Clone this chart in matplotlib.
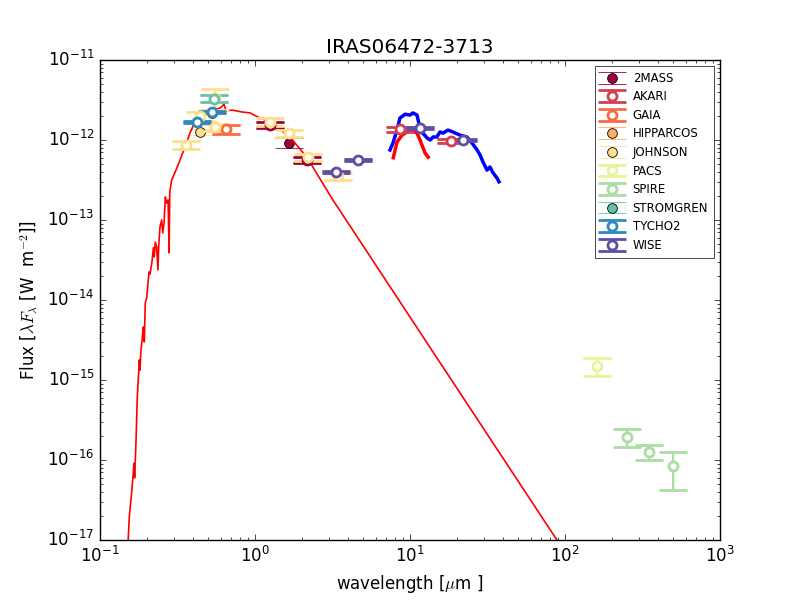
import matplotlib
matplotlib.use('Agg')
import matplotlib.pyplot as plt

plt.style.use('classic')
plt.rcParams['axes.unicode_minus'] = False

# stellar model (micron, W m-2)
model_wl = [0.152, 0.1545, 0.160, 0.164, 0.1656, 0.1673, 0.1706, 0.174, 0.1794, 0.1813,
            0.1832, 0.1876, 0.1902, 0.1931, 0.1959, 0.200, 0.203, 0.207, 0.210, 0.216,
            0.221, 0.224, 0.2275, 0.232, 0.2366, 0.239, 0.2438, 0.250, 0.254, 0.259,
            0.264, 0.269, 0.275, 0.279, 0.282, 0.290, 0.309, 0.328, 0.353, 0.381,
            0.404, 0.442, 0.513, 0.595, 0.631, 0.650, 0.711, 0.824, 0.929, 1.077,
            1.25, 1.68, 2.16, 3.18, 88.7, 200.0]
model_flux = [1e-17, 1.95e-17, 3.9e-17, 6.9e-17, 9.1e-17, 6.0e-17, 1.63e-16, 6.1e-16, 1.78e-15, 1.33e-15,
              2.18e-15, 3.45e-15, 4.6e-15, 3.0e-15, 9.2e-15, 1.06e-14, 1.45e-14, 2.24e-14, 2.1e-14, 2.9e-14,
              4.5e-14, 3.45e-14, 5.3e-14, 4.6e-14, 2.37e-14, 4.6e-14, 8.2e-14, 1.0e-13, 6.9e-14, 9.4e-14,
              1.94e-13, 1.63e-13, 1.78e-13, 3.9e-14, 2.24e-13, 3.16e-13, 4.2e-13, 5.6e-13, 8.1e-13, 1.23e-12,
              1.58e-12, 2.05e-12, 2.37e-12, 2.5e-12, 2.8e-12, 2.3e-12, 2.37e-12, 2.24e-12, 2.18e-12, 1.88e-12,
              1.68e-12, 1.09e-12, 6.1e-13, 1.78e-13, 1e-17, 9e-19]

# short red mid-IR spectrum
lrs_wl = [7.8, 8.24, 8.88, 9.57, 10.3, 11.1, 11.6, 12.1, 12.5, 13.1]
lrs_flux = [6.0e-13, 9.4e-13, 1.15e-12, 1.26e-12, 1.33e-12, 1.22e-12, 1.0e-12, 8.1e-13, 6.9e-13, 6.1e-13]

# blue mid-IR spectrum
irs_wl = [7.43, 7.77, 8.24, 8.61, 9.29, 10.0, 10.45, 11.1, 11.4, 12.1,
          12.9, 13.5, 14.1, 14.9, 15.6, 16.3, 17.6, 18.9, 21.0, 23.3,
          25.1, 27.1, 28.3, 29.6, 31.4, 32.8, 34.3, 36.4, 37.5]
irs_flux = [7.5e-13, 9.2e-13, 1.33e-12, 1.88e-12, 2.1e-12, 2.05e-12, 2.18e-12, 2.05e-12, 1.63e-12, 1.22e-12,
            1.06e-12, 1.0e-12, 1.09e-12, 1.09e-12, 1.26e-12, 1.22e-12, 1.33e-12, 1.26e-12, 1.15e-12, 1.09e-12,
            9.2e-13, 7.5e-13, 6.5e-13, 5.3e-13, 4.2e-13, 4.6e-13, 3.9e-13, 3.35e-13, 3.0e-13]

# photometry per band: wavelength, flux, error, used in fit
twomass_wl = [1.25, 1.65, 2.17]
twomass_flux = [1.55e-12, 9.2e-13, 5.6e-13]
twomass_err = [1.5e-13, 1.3e-13, 5e-14]
twomass_fit = [True, False, True]

akari_wl = [8.6, 18.4]
akari_flux = [1.37e-12, 9.7e-13]
akari_err = [1.0e-13, 6e-14]
akari_fit = [True, True]

gaia_wl = [0.65]
gaia_flux = [1.37e-12]
gaia_err = [1.8e-13]
gaia_fit = [True]

hipparcos_wl = [0.53]
hipparcos_flux = [2.2e-12]
hipparcos_err = [1e-13]
hipparcos_fit = [False]

johnson_wl = [0.36, 0.44, 0.44, 0.55, 0.55, 1.25, 1.65, 2.2, 3.45]
johnson_flux = [8.7e-13, 2.0e-12, 1.26e-12, 3.35e-12, 1.45e-12, 1.68e-12, 1.22e-12, 6.1e-13, 3.5e-13]
johnson_err = [1.0e-13, 2.5e-13, 1e-13, 9.5e-13, 1.5e-13, 1.8e-13, 1.3e-13, 6.5e-14, 3.5e-14]
johnson_fit = [True, True, False, True, True, True, True, True, True]

pacs_wl = [160.0]
pacs_flux = [1.5e-15]
pacs_err = [3.8e-16]
pacs_fit = [True]

spire_wl = [250.0, 350.0, 500.0]
spire_flux = [1.94e-16, 1.26e-16, 8.4e-17]
spire_err = [5e-17, 2.6e-17, 4.2e-17]
spire_fit = [True, True, True]

stromgren_wl = [0.547]
stromgren_flux = [3.3e-12]
stromgren_err = [3e-13]
stromgren_fit = [True]

tycho_wl = [0.42, 0.53]
tycho_flux = [1.68e-12, 2.24e-12]
tycho_err = [6e-14, 8e-14]
tycho_fit = [True, True]

wise_wl = [3.35, 4.6, 11.6, 22.1]
wise_flux = [4.0e-13, 5.6e-13, 1.41e-12, 1.0e-12]
wise_err = [1.2e-14, 1.7e-14, 4e-14, 3e-14]
wise_fit = [True, True, True, True]

bands = [
    ('2MASS', twomass_wl, twomass_flux, twomass_err, twomass_fit, '#9e0142'),
    ('AKARI', akari_wl, akari_flux, akari_err, akari_fit, '#d53e4f'),
    ('GAIA', gaia_wl, gaia_flux, gaia_err, gaia_fit, '#f46d43'),
    ('HIPPARCOS', hipparcos_wl, hipparcos_flux, hipparcos_err, hipparcos_fit, '#fdae61'),
    ('JOHNSON', johnson_wl, johnson_flux, johnson_err, johnson_fit, '#fee08b'),
    ('PACS', pacs_wl, pacs_flux, pacs_err, pacs_fit, '#e6f598'),
    ('SPIRE', spire_wl, spire_flux, spire_err, spire_fit, '#abdda4'),
    ('STROMGREN', stromgren_wl, stromgren_flux, stromgren_err, stromgren_fit, '#66c2a5'),
    ('TYCHO2', tycho_wl, tycho_flux, tycho_err, tycho_fit, '#3288bd'),
    ('WISE', wise_wl, wise_flux, wise_err, wise_fit, '#5e4fa2'),
]
# bands whose legend entry shows the filled (not fitted) style
legend_filled = ['2MASS', 'HIPPARCOS', 'JOHNSON', 'STROMGREN']

fig, ax = plt.subplots(figsize=(8, 6), dpi=100)
ax.set_xscale('log')
ax.set_yscale('log')

ax.plot(model_wl, model_flux, color='red', lw=1.2, zorder=2)
ax.plot(lrs_wl, lrs_flux, color='red', lw=2.5, zorder=2)
ax.plot(irs_wl, irs_flux, color='blue', lw=2.5, zorder=2)

handles = []
for name, wl, fl, err, fit, col in bands:
    # all points, filled markers with thin bars
    hf = ax.errorbar(wl, fl, yerr=err, fmt='o', color=col, mfc=col, mec='k',
                     ms=7, mew=0.6, elinewidth=1, capsize=10, capthick=1, zorder=1)
    # fitted points on top, open markers with thick bars
    sel = [i for i, f in enumerate(fit) if f]
    ho = None
    if sel:
        ho = ax.errorbar([wl[i] for i in sel], [fl[i] for i in sel],
                         yerr=[err[i] for i in sel], fmt='o', color=col, mfc='white',
                         mec=col, ms=6.5, mew=2, elinewidth=1.5, capsize=10,
                         capthick=2.5, zorder=3)
    handles.append(hf if (name in legend_filled or ho is None) else ho)

ax.set_xlim(0.1, 1000)
ax.set_ylim(1e-17, 1e-11)
ax.set_xticks([0.1, 1, 10, 100, 1000])
ax.set_yticks([1e-17, 1e-16, 1e-15, 1e-14, 1e-13, 1e-12, 1e-11])
ax.set_xlim(0.1, 1000)
ax.set_ylim(1e-17, 1e-11)
ax.set_title('IRAS06472-3713')
ax.set_xlabel(r'wavelength [$\mu$m ]')
ax.set_ylabel(r'Flux [$\lambda F_\lambda$ [W  m$^{-2}$]]')

leg = ax.legend(handles, [b[0] for b in bands], loc='upper right', numpoints=1,
                fontsize=8.5, labelspacing=0.47, handlelength=1.9, borderpad=0.5)
leg.get_frame().set_linewidth(0.5)

fig.savefig('out.png', dpi=100)
